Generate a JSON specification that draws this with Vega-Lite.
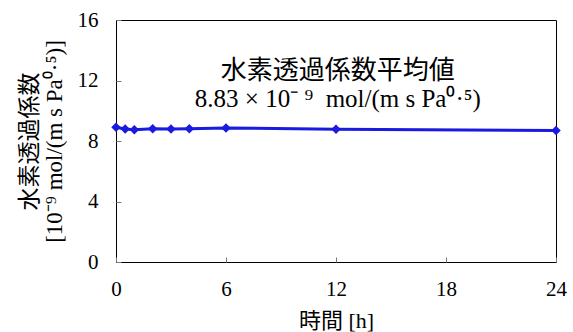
{
  "$schema": "https://vega.github.io/schema/vega-lite/v6.json",
  "width": 440,
  "height": 242,
  "autosize": "none",
  "padding": {"left": 116, "top": 20, "right": 17, "bottom": 70},
  "background": "white",
  "config": {
    "view": {"stroke": "black", "strokeWidth": 1},
    "font": "Liberation Serif"
  },
  "datasets": {
    "series": [
      {"t": 0, "v": 8.91},
      {"t": 0.5, "v": 8.79},
      {"t": 1, "v": 8.74},
      {"t": 2, "v": 8.81},
      {"t": 3, "v": 8.79},
      {"t": 4, "v": 8.81},
      {"t": 6, "v": 8.86},
      {"t": 12, "v": 8.77},
      {"t": 24, "v": 8.69}
    ],
    "notes": [
      {"line1": "水素透過係数平均値", "line2": "8.83 × 10⁻ ⁹ \u00a0mol/(m s Pa⁰·⁵)"}
    ]
  },
  "layer": [
    {
      "data": {"name": "series"},
      "mark": {"type": "line", "color": "#1a1ae0", "strokeWidth": 3, "point": {"shape": "diamond", "size": 90, "filled": true, "color": "#1a1ae0", "opacity": 1}},
      "encoding": {
        "x": {
          "field": "t", "type": "quantitative",
          "scale": {"domain": [0, 24], "nice": false},
          "axis": {
            "values": [0, 6, 12, 18, 24], "grid": false, "domain": false, "labelFlush": false,
            "tickSize": -5, "tickColor": "#777", "labelFont": "Liberation Serif", "labelFontSize": 21,
            "labelColor": "black", "labelPadding": 21,
            "title": "時間 [h]", "titleFont": "Liberation Serif, Noto Sans CJK JP", "titleFontSize": 22,
            "titleFontWeight": "normal", "titleColor": "black", "titlePadding": 11
          }
        },
        "y": {
          "field": "v", "type": "quantitative",
          "scale": {"domain": [0, 16], "nice": false},
          "axis": {
            "values": [0, 4, 8, 12, 16], "grid": false, "domain": false, "labelFlush": false,
            "tickSize": -5, "tickColor": "#777", "labelFont": "Liberation Serif", "labelFontSize": 21,
            "labelColor": "black", "labelPadding": 23,
            "title": ["水素透過係数", "[10⁻⁹ mol/(m s Pa⁰·⁵)]"],
            "titleFont": "Liberation Serif, Noto Sans CJK JP", "titleFontSize": 23,
            "titleFontWeight": "normal", "titleColor": "black", "titlePadding": 11, "titleLineHeight": 25
          }
        }
      }
    },
    {
      "data": {"name": "notes"},
      "mark": {"type": "text", "font": "Noto Sans CJK JP", "fontSize": 26, "fontWeight": "normal", "color": "black", "baseline": "middle"},
      "encoding": {"text": {"field": "line1"}, "x": {"datum": 12.1}, "y": {"datum": 12.63}}
    },
    {
      "data": {"name": "notes"},
      "mark": {"type": "text", "font": "Liberation Serif", "fontSize": 25, "fontWeight": "normal", "color": "black", "baseline": "alphabetic"},
      "encoding": {"text": {"field": "line2"}, "x": {"datum": 12.1}, "y": {"datum": 10.25}}
    }
  ]
}
